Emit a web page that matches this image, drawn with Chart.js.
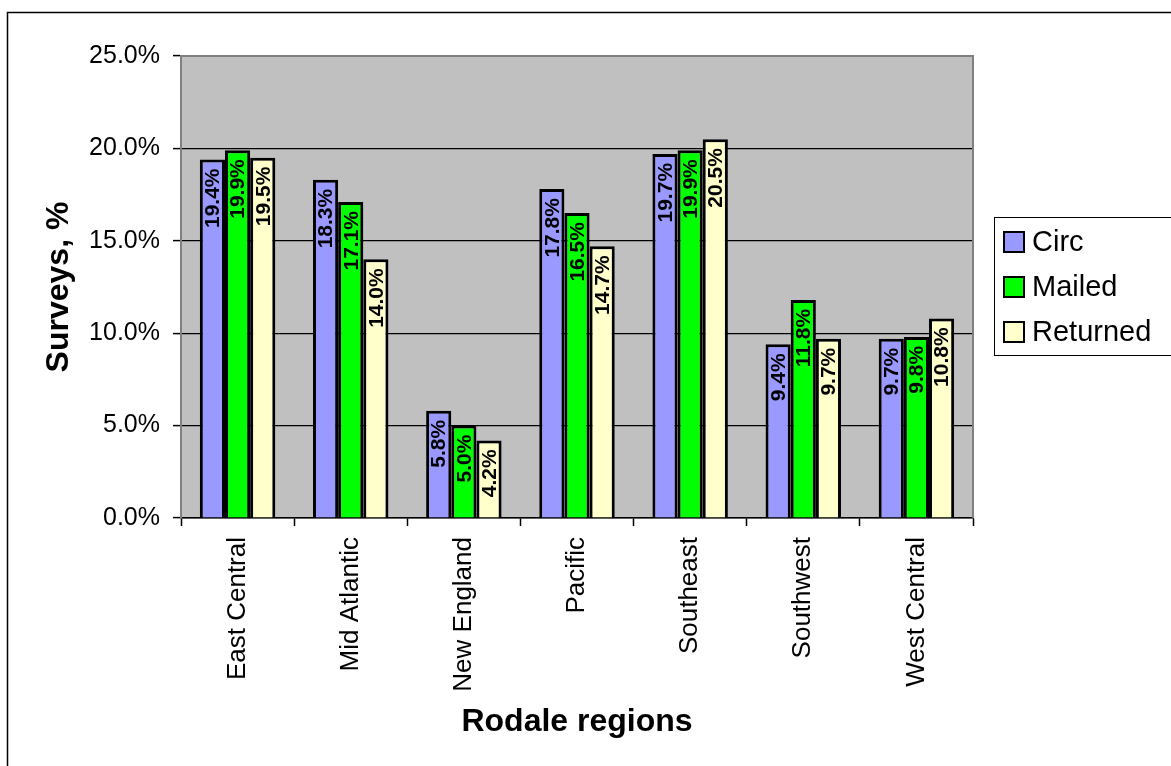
<!DOCTYPE html>
<html>
<head>
<meta charset="utf-8">
<script src="https://cdn.jsdelivr.net/npm/chart.js@4/dist/chart.umd.min.js"></script>
<style>
  html, body { margin: 0; padding: 0; background: #fff; }
  #box { width: 1171px; height: 766px; }
</style>
</head>
<body>
<div id="box"><canvas id="grafico"></canvas></div>
<script>
const regioes = ["East Central", "Mid Atlantic", "New England", "Pacific", "Southeast", "Southwest", "West Central"];
const circ = [19.4, 18.3, 5.8, 17.8, 19.7, 9.4, 9.7];
const mailed = [19.9, 17.1, 5.0, 16.5, 19.9, 11.8, 9.8];
const returned = [19.5, 14.0, 4.2, 14.7, 20.5, 9.7, 10.8];
const nomesSeries = ["Circ", "Mailed", "Returned"];
const coresSeries = ["#9999FF", "#00FF00", "#FFFFCC"];

const fonte = "Arial, 'Liberation Sans', sans-serif";
Chart.defaults.font.family = fonte;
Chart.defaults.color = "#000";

// fundo cinza da area do grafico + moldura externa
const fundoPlugin = {
  id: "fundo",
  beforeDraw(chart) {
    const { ctx, chartArea: a } = chart;
    ctx.save();
    ctx.fillStyle = "#fff";
    ctx.fillRect(0, 0, chart.width, chart.height);
    ctx.strokeStyle = "#000";
    ctx.lineWidth = 1.5;
    ctx.strokeRect(7.5, 12.5, chart.width + 10, chart.height + 10);
    ctx.fillStyle = "#C0C0C0";
    ctx.fillRect(a.left, a.top, a.right - a.left, a.bottom - a.top);
    ctx.restore();
  },
  afterDraw(chart) {
    const { ctx, chartArea: a } = chart;
    ctx.save();
    ctx.strokeStyle = "#808080";
    ctx.lineWidth = 2;
    ctx.beginPath();
    ctx.moveTo(a.left, a.top);
    ctx.lineTo(a.right, a.top);
    ctx.lineTo(a.right, a.bottom);
    ctx.stroke();
    ctx.restore();
  }
};

// rotulos verticais dentro das barras
const rotulosPlugin = {
  id: "rotulos",
  afterDatasetsDraw(chart) {
    const { ctx } = chart;
    ctx.save();
    ctx.font = "bold 21px " + fonte;
    ctx.fillStyle = "#000";
    ctx.textAlign = "right";
    ctx.textBaseline = "middle";
    chart.data.datasets.forEach((ds, i) => {
      chart.getDatasetMeta(i).data.forEach((bar, j) => {
        ctx.save();
        ctx.translate(bar.x + 1, bar.y + 9);
        ctx.rotate(-Math.PI / 2);
        ctx.fillText(ds.data[j].toFixed(1) + "%", 0, 0);
        ctx.restore();
      });
    });
    ctx.restore();
  }
};

// legenda com moldura, a direita
const legendaPlugin = {
  id: "legenda",
  afterDraw(chart) {
    const { ctx } = chart;
    ctx.save();
    ctx.strokeStyle = "#000";
    ctx.lineWidth = 1;
    ctx.strokeRect(994.5, 217.5, 200, 138);
    ctx.font = "29px " + fonte;
    ctx.textBaseline = "middle";
    chart.data.datasets.forEach((ds, i) => {
      const y = 242 + i * 45;
      ctx.fillStyle = ds.backgroundColor;
      ctx.fillRect(1004, y - 10, 20, 20);
      ctx.lineWidth = 2;
      ctx.strokeRect(1004, y - 10, 20, 20);
      ctx.fillStyle = "#000";
      ctx.fillText(ds.label, 1032, y + 1);
    });
    ctx.restore();
  }
};

const series = [circ, mailed, returned];

new Chart(document.getElementById("grafico"), {
  type: "bar",
  data: {
    labels: regioes,
    datasets: series.map((valores, i) => ({
      label: nomesSeries[i],
      data: valores,
      backgroundColor: coresSeries[i],
      borderColor: "#000",
      borderWidth: 3,
      categoryPercentage: 0.667,
      barPercentage: 1.0
    }))
  },
  options: {
    responsive: true,
    maintainAspectRatio: false,
    animation: false,
    events: [],
    layout: { padding: { top: 56, right: 198, bottom: 0, left: 0 } },
    plugins: {
      legend: { display: false },
      tooltip: { enabled: false }
    },
    scales: {
      x: {
        afterFit(scale) { scale.height = 248; },
        grid: {
          offset: true,
          drawOnChartArea: false,
          drawTicks: true,
          tickLength: 8,
          tickColor: "#000",
          tickWidth: 1.5
        },
        border: { color: "#000", width: 1.5 },
        ticks: {
          minRotation: 90,
          maxRotation: 90,
          padding: 11,
          font: { size: 26 },
          color: "#000"
        },
        title: {
          display: true,
          text: "Rodale regions",
          font: { size: 32, weight: "bold" },
          color: "#000",
          padding: { top: 0, bottom: 25 }
        }
      },
      y: {
        min: 0,
        max: 25,
        afterFit(scale) { scale.width = 181; },
        ticks: {
          stepSize: 5,
          padding: 13,
          font: { size: 25 },
          color: "#000",
          callback: v => v.toFixed(1) + "%"
        },
        grid: {
          color: c => (c.tick && c.tick.value === 25 ? "#808080" : "#000"),
          lineWidth: 1.2,
          tickLength: 8,
          tickColor: "#000",
          tickWidth: 1.5
        },
        border: { color: "#808080", width: 2 },
        title: {
          display: true,
          text: "Surveys, %",
          font: { size: 32, weight: "bold" },
          color: "#000",
          padding: { top: 40, bottom: 0 }
        }
      }
    }
  },
  plugins: [fundoPlugin, rotulosPlugin, legendaPlugin]
});
</script>
</body>
</html>
